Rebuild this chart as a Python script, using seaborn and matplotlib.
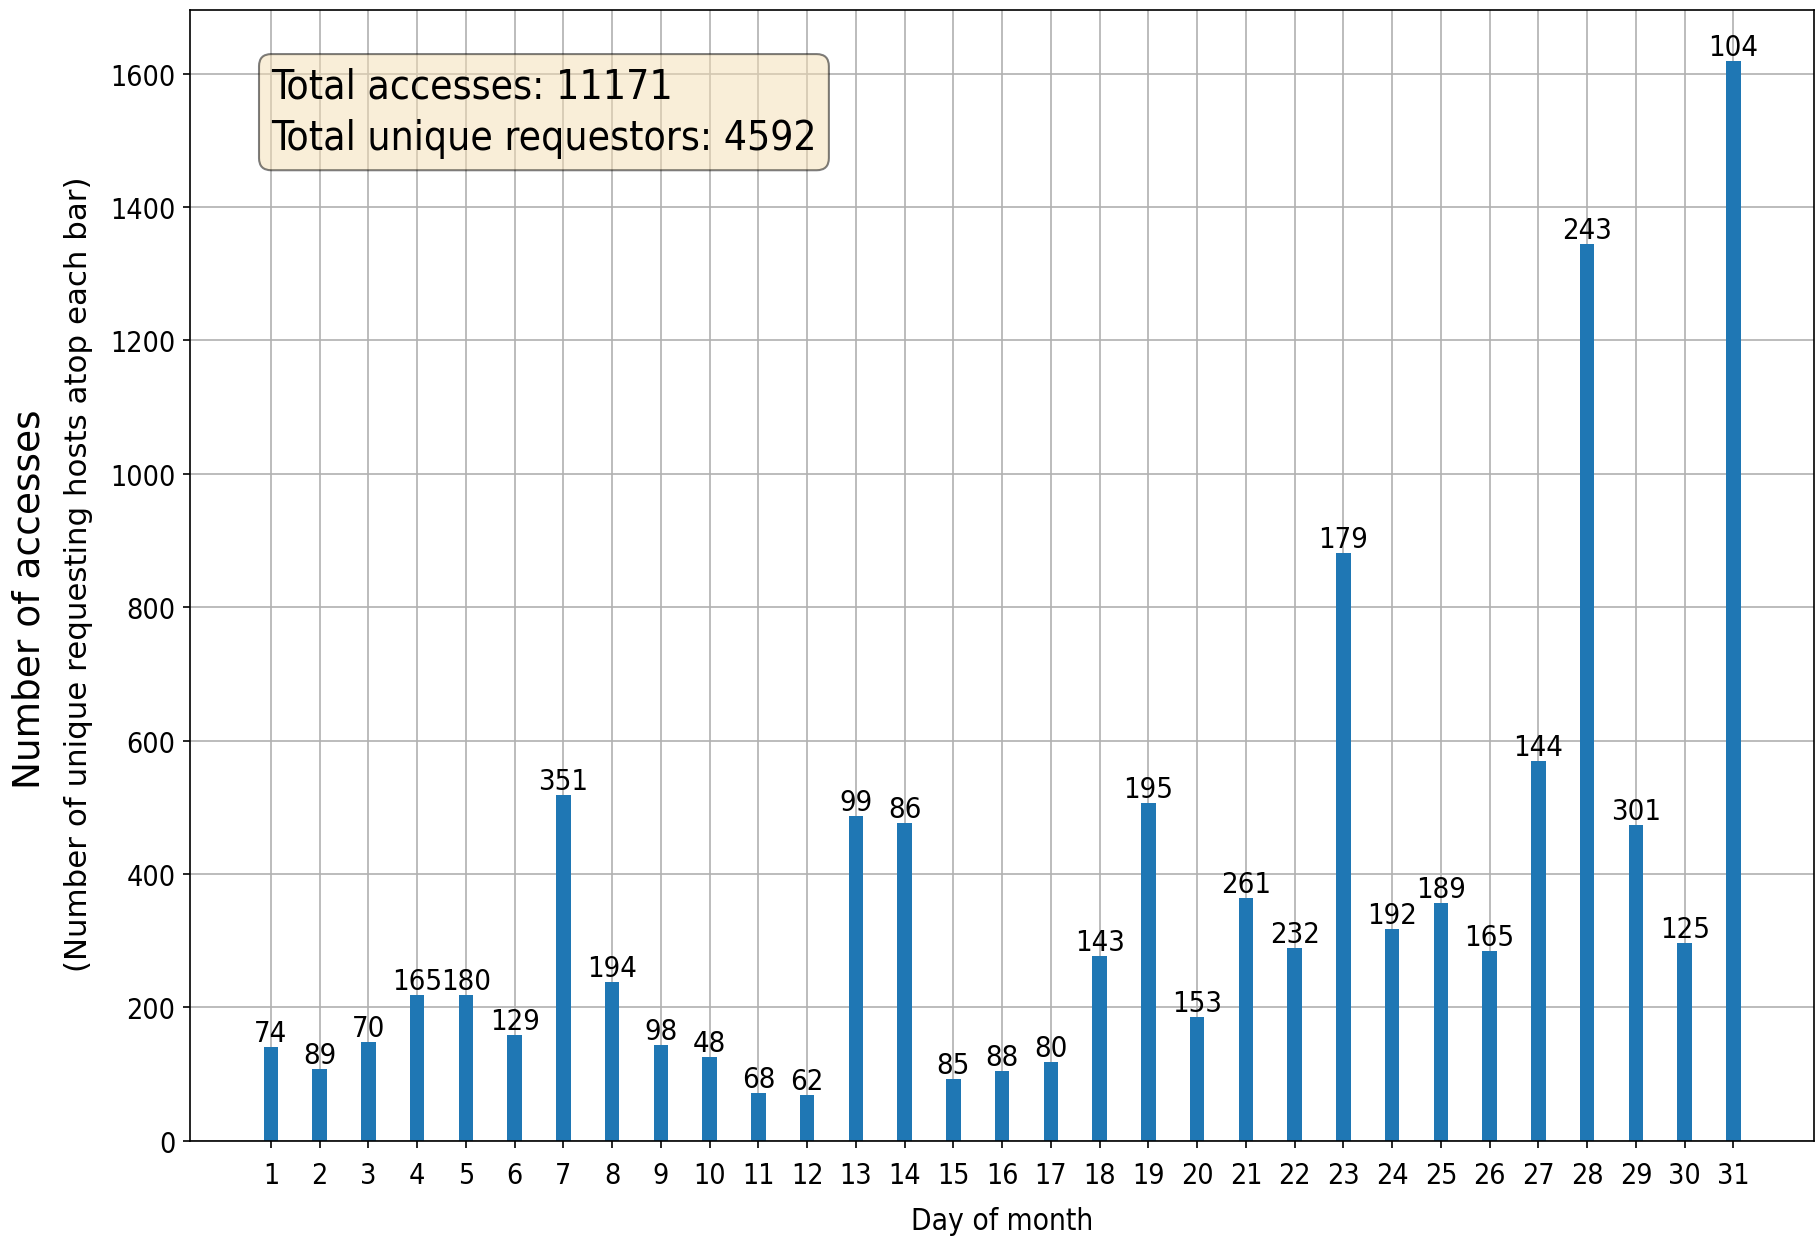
import numpy as np
import matplotlib
matplotlib.use("Agg")
import matplotlib.pyplot as plt
import seaborn as sns
import pandas as pd

days = list(range(1, 32))
accesses = [141, 108, 148, 219, 219, 158, 519, 238, 144, 125, 71, 68, 487, 477, 92, 104,
            118, 277, 507, 186, 364, 289, 881, 317, 357, 285, 569, 1345, 473, 296, 1619]
uniques = [74, 89, 70, 165, 180, 129, 351, 194, 98, 48, 68, 62, 99, 86, 85, 88,
           80, 143, 195, 153, 261, 232, 179, 192, 189, 165, 144, 243, 301, 125, 104]
total_accesses = 11171
total_unique = 4592

df = pd.DataFrame({"day": days, "accesses": accesses})

# the reference text looks a bit narrow, use the condensed face
plt.rcParams["font.family"] = ["DejaVu Sans"]
plt.rcParams["font.stretch"] = "condensed"

fig = plt.figure(figsize=(12.12, 8.273), dpi=150)
ax = fig.add_axes([0.1045, 0.08, 0.8935, 0.9114])

sns.barplot(data=df, x="day", y="accesses", native_scale=True, width=0.3,
            color="#1f77b4", saturation=1, errorbar=None, ax=ax)

ax.bar_label(ax.containers[0], labels=[str(u) for u in uniques], fontsize=14)

ax.set_xticks(days)
ax.set_xticklabels([str(d) for d in days], fontsize=13.7)
ax.tick_params(axis="x", pad=6.3)
ax.tick_params(axis="y", labelsize=13.7)
ax.set_xlim(-0.66, 32.66)
ax.set_ylim(0, 1696)
ax.grid(True)
ax.set_axisbelow(True)

ax.set_xlabel("Day of month", fontsize=14.3, labelpad=8)
ax.set_ylabel("")
# two-line y label: main label + smaller note
fig.text(0.0163, 0.517, "Number of accesses", rotation=90, ha="center", va="center",
         fontsize=18, fontstretch="normal")
fig.text(0.043, 0.537, "(Number of unique requesting hosts atop each bar)",
         rotation=90, ha="center", va="center", fontsize=14.8, fontstretch="normal")

ax.text(0.05, 0.95, f"Total accesses: {total_accesses}\nTotal unique requestors: {total_unique}",
        transform=ax.transAxes, fontsize=19.5, va="top", linespacing=1.38,
        bbox=dict(boxstyle="round", facecolor="wheat", alpha=0.5))

fig.savefig("out.png", dpi=150)
